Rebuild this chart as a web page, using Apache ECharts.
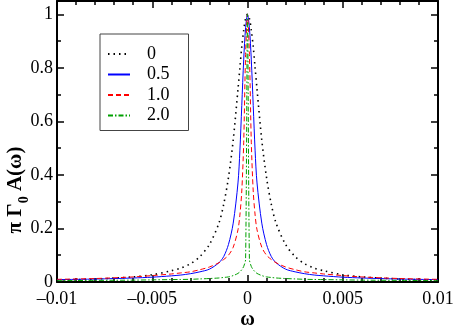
<!DOCTYPE html>
<html>
<head>
<meta charset="utf-8">
<script src="https://cdn.jsdelivr.net/npm/echarts@6/dist/echarts.min.js"></script>
<style>
  html, body { margin: 0; padding: 0; background: #fff; }
  #chart { width: 453px; height: 327px; }
</style>
</head>
<body>
<div id="chart"></div>
<script>
// omega values (x) shared by all curves
var omega = [-0.01, -0.008, -0.006, -0.005, -0.004, -0.0035, -0.003, -0.0025, -0.002, -0.0015, -0.00125, -0.001, -0.00075, -0.0005, -0.0004, -0.0003, -0.0002, -0.0001,
  0, 0.0001, 0.0002, 0.0003, 0.0004, 0.0005, 0.00075, 0.001, 0.00125, 0.0015, 0.002, 0.0025, 0.003, 0.0035, 0.004, 0.005, 0.006, 0.008, 0.01];

var names = ['0', '0.5', '1.0', '2.0'];

var curve0 = [0.007, 0.011, 0.019, 0.027, 0.042, 0.052, 0.068, 0.095, 0.14, 0.22, 0.29, 0.39, 0.53, 0.72, 0.80, 0.88, 0.94, 0.985,
  1.0, 0.985, 0.94, 0.88, 0.80, 0.72, 0.53, 0.39, 0.29, 0.22, 0.14, 0.095, 0.068, 0.052, 0.042, 0.027, 0.019, 0.011, 0.007];
var curve05 = [0.009, 0.011, 0.015, 0.018, 0.023, 0.026, 0.031, 0.038, 0.048, 0.072, 0.095, 0.14, 0.22, 0.37, 0.49, 0.66, 0.83, 0.95,
  1.0, 0.95, 0.83, 0.66, 0.49, 0.37, 0.22, 0.14, 0.095, 0.072, 0.048, 0.038, 0.031, 0.026, 0.023, 0.018, 0.015, 0.011, 0.009];
var curve10 = [0.010, 0.013, 0.019, 0.024, 0.030, 0.034, 0.038, 0.046, 0.056, 0.072, 0.084, 0.10, 0.13, 0.195, 0.25, 0.34, 0.52, 0.85,
  1.0, 0.85, 0.52, 0.34, 0.25, 0.195, 0.13, 0.10, 0.084, 0.072, 0.056, 0.046, 0.038, 0.034, 0.030, 0.024, 0.019, 0.013, 0.010];
var curve20 = [0.005, 0.006, 0.007, 0.008, 0.009, 0.0095, 0.010, 0.0115, 0.013, 0.015, 0.017, 0.019, 0.024, 0.032, 0.038, 0.046, 0.058, 0.085,
  1.0, 0.085, 0.058, 0.046, 0.038, 0.032, 0.024, 0.019, 0.017, 0.015, 0.013, 0.0115, 0.010, 0.0095, 0.009, 0.008, 0.007, 0.006, 0.005];

function pairs(ys) {
  return omega.map(function (x, i) { return [x, ys[i]]; });
}

var serif = "'Liberation Serif', 'Times New Roman', serif";

function xAx(pos) {
  return {
    type: 'value', position: pos, min: -0.01, max: 0.01, interval: 0.005,
    axisLine: { onZero: false, lineStyle: { color: '#000', width: 2 } },
    axisTick: { inside: true, length: 7, lineStyle: { color: '#000', width: 1.5 } },
    minorTick: { show: true, splitNumber: 5, length: 4, lineStyle: { color: '#000', width: 1.5 } },
    splitLine: { show: false },
    axisLabel: {
      show: pos === 'bottom', fontFamily: serif, fontSize: 18, color: '#000', margin: 8,
      formatter: function (v) { return String(v).replace('-', '\u2013'); }
    }
  };
}

function yAx(pos) {
  return {
    type: 'value', position: pos, min: 0, max: 1.05, interval: 0.2,
    axisLine: { onZero: false, lineStyle: { color: '#000', width: 2 } },
    axisTick: { inside: true, length: 7, lineStyle: { color: '#000', width: 1.5 } },
    minorTick: { show: true, splitNumber: 2, length: 4, lineStyle: { color: '#000', width: 1.5 } },
    splitLine: { show: false },
    axisLabel: {
      show: pos === 'left', fontFamily: serif, fontSize: 18, color: '#000', margin: 4,
      showMaxLabel: false
    }
  };
}

var chart = echarts.init(document.getElementById('chart'));

var xBottom = xAx('bottom');
xBottom.name = 'ω';
xBottom.nameLocation = 'middle';
xBottom.nameGap = 28;
xBottom.nameMoveOverlap = false;
xBottom.nameTextStyle = { fontFamily: serif, fontSize: 20, fontWeight: 'bold', color: '#000', verticalAlign: 'top' };

chart.setOption({
  animation: false,
  grid: { left: 57, right: 15, top: 1, bottom: 45, outerBoundsMode: 'none' },
  xAxis: [xBottom, xAx('top')],
  yAxis: [yAx('left'), yAx('right')],
  legend: {
    orient: 'vertical', left: 100, top: 34,
    itemWidth: 22, itemHeight: 10, itemGap: 2.5,
    padding: [11, 19, 6, 7],
    borderColor: '#444', borderWidth: 1,
    itemStyle: { opacity: 0 },
    textStyle: { fontFamily: serif, fontSize: 18, lineHeight: 15, color: '#000', padding: [0, 0, 0, 12] },
    data: names
  },
  graphic: [{
    type: 'text', x: 18, y: 190, rotation: Math.PI / 2,
    style: {
      text: '{a|π Γ}{s|0}{a| A(ω)}',
      align: 'center', verticalAlign: 'middle',
      rich: {
        a: { fontFamily: serif, fontSize: 21, fontWeight: 'bold', fill: '#000', lineHeight: 26, verticalAlign: 'top' },
        s: { fontFamily: serif, fontSize: 14, fontWeight: 'bold', fill: '#000', lineHeight: 12, verticalAlign: 'bottom' }
      }
    }
  }],
  series: [
    { name: names[0], type: 'line', symbol: 'none', smooth: 0.3, data: pairs(curve0),
      lineStyle: { color: '#000', width: 1.6, type: [1.5, 4] }, itemStyle: { color: '#000' } },
    { name: names[1], type: 'line', symbol: 'none', smooth: 0.3, data: pairs(curve05),
      lineStyle: { color: '#0000ff', width: 1 }, itemStyle: { color: '#0000ff' } },
    { name: names[2], type: 'line', symbol: 'none', smooth: 0.3, data: pairs(curve10),
      lineStyle: { color: '#ff0000', width: 1, type: [5, 3] }, itemStyle: { color: '#ff0000' } },
    { name: names[3], type: 'line', symbol: 'none', smooth: 0.3, data: pairs(curve20),
      lineStyle: { color: '#00a000', width: 1, type: [5, 2, 1.5, 2] }, itemStyle: { color: '#00a000' } }
  ]
});
</script>
</body>
</html>
